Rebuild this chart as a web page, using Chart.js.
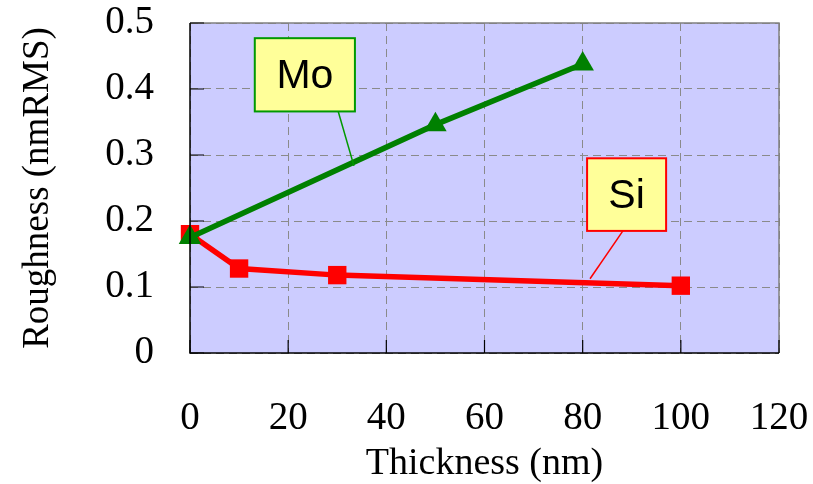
<!DOCTYPE html>
<html lang="en">
<head>
  <meta charset="UTF-8">
  <title>Roughness vs Thickness</title>
  <script src="https://cdn.jsdelivr.net/npm/chart.js"></script>
  <style>
    body { margin: 0; background: #fff; }
    #chart { display: block; }
  </style>
</head>
<body>
  <canvas id="chart" width="813" height="484"></canvas>
  <script>
    // thickness (nm) / roughness (nmRMS)
    const moThickness = [0, 50, 80];
    const moRoughness = [0.175, 0.346, 0.438];
    const siThickness = [0, 10, 30, 100];
    const siRoughness = [0.18, 0.128, 0.118, 0.102];

    const xTickLabels = ['0', '20', '40', '60', '80', '100', '120'];
    const yTickLabels = ['0', '0.1', '0.2', '0.3', '0.4', '0.5'];

    // callout boxes, in data units: [xMin, xMax, yMin, yMax], anchor x on box bottom, tip [x, y]
    const moNoteBox = [13.2, 33.6, 0.366, 0.477];
    const moNoteTip = [30.2, 33.4, 0.2835];
    const siNoteBox = [80.9, 97.0, 0.185, 0.295];
    const siNoteTip = [88.2, 81.5, 0.1125];

    const serif = '"Liberation Serif", "Times New Roman", serif';

    const plotFrame = {
      id: 'plotFrame',
      beforeDraw(chart) {
        const { ctx, chartArea: a } = chart;
        ctx.save();
        ctx.fillStyle = '#ccccff';
        ctx.fillRect(a.left, a.top, a.right - a.left, a.bottom - a.top);
        ctx.restore();
      },
      afterDatasetsDraw(chart) {
        const { ctx, chartArea: a, scales } = chart;
        ctx.save();
        // top / right edges
        ctx.strokeStyle = '#808080';
        ctx.lineWidth = 1.5;
        ctx.beginPath();
        ctx.moveTo(a.left, a.top);
        ctx.lineTo(a.right, a.top);
        ctx.lineTo(a.right, a.bottom);
        ctx.stroke();
        // left / bottom axes
        ctx.strokeStyle = '#000';
        ctx.beginPath();
        ctx.moveTo(a.left, a.top);
        ctx.lineTo(a.left, a.bottom);
        ctx.lineTo(a.right, a.bottom);
        ctx.stroke();
        // inward tick marks
        ctx.lineWidth = 1.2;
        ctx.beginPath();
        scales.y.ticks.forEach((t, i) => {
          const y = scales.y.getPixelForTick(i);
          ctx.moveTo(a.left, y);
          ctx.lineTo(a.left + 14, y);
        });
        scales.x.ticks.forEach((t, i) => {
          const x = scales.x.getPixelForTick(i);
          ctx.moveTo(x, a.bottom);
          ctx.lineTo(x, a.bottom - 13);
        });
        ctx.stroke();
        ctx.restore();
      },
      afterDraw(chart) {
        const { ctx, scales: { x, y } } = chart;
        const note = (text, box, tip, color) => {
          const l = x.getPixelForValue(box[0]), r = x.getPixelForValue(box[1]);
          const b = y.getPixelForValue(box[2]), t = y.getPixelForValue(box[3]);
          ctx.save();
          ctx.strokeStyle = color;
          ctx.lineWidth = 1.5;
          ctx.beginPath();
          ctx.moveTo(x.getPixelForValue(tip[0]), b);
          ctx.lineTo(x.getPixelForValue(tip[1]), y.getPixelForValue(tip[2]));
          ctx.stroke();
          ctx.fillStyle = '#ffff99';
          ctx.fillRect(l, t, r - l, b - t);
          ctx.lineWidth = 2;
          ctx.strokeRect(l, t, r - l, b - t);
          ctx.fillStyle = '#000';
          ctx.font = '41px "Liberation Sans", Arial, sans-serif';
          ctx.textAlign = 'center';
          ctx.textBaseline = 'middle';
          ctx.fillText(text, (l + r) / 2, (t + b) / 2 + 2);
          ctx.restore();
        };
        note('Mo', moNoteBox, moNoteTip, '#009900');
        note('Si', siNoteBox, siNoteTip, '#ff0000');
      }
    };

    const toPoints = (xs, ys) => xs.map((v, i) => ({ x: v, y: ys[i] }));

    new Chart(document.getElementById('chart'), {
      type: 'line',
      data: {
        datasets: [{
          label: 'Mo',
          data: toPoints(moThickness, moRoughness),
          borderColor: '#008000',
          backgroundColor: '#008000',
          borderWidth: 5.5,
          pointStyle: 'triangle',
          pointRadius: 13,
          pointBorderWidth: 0,
          tension: 0
        }, {
          label: 'Si',
          data: toPoints(siThickness, siRoughness),
          borderColor: '#ff0000',
          backgroundColor: '#ff0000',
          borderWidth: 5.5,
          pointStyle: 'rect',
          pointRadius: 13,
          pointBorderWidth: 0,
          tension: 0
        }]
      },
      options: {
        responsive: false,
        animation: false,
        clip: false,
        layout: { autoPadding: false, padding: { top: 23, right: 34, left: 0, bottom: 0 } },
        plugins: {
          legend: { display: false },
          tooltip: { enabled: false }
        },
        scales: {
          x: {
            type: 'linear',
            min: 0,
            max: 120,
            // fixed axis band; tick padding would otherwise widen the side margins
            afterFit: s => { s.height = 131; s.paddingLeft = 0; s.paddingRight = 0; },
            ticks: {
              stepSize: 20,
              padding: 46,
              color: '#000',
              font: { family: serif, size: 39, lineHeight: 1 },
              maxRotation: 0,
              callback: (v, i) => xTickLabels[i]
            },
            grid: { color: '#8a8a8a', lineWidth: 1, drawTicks: false },
            border: { display: false, dash: [8, 5] },
            title: {
              display: true,
              text: 'Thickness (nm)',
              color: '#000',
              font: { family: serif, size: 38, lineHeight: 1.05 },
              padding: { top: 0, bottom: 0 }
            }
          },
          y: {
            min: 0,
            max: 0.5,
            afterFit: s => { s.width = 190; s.paddingTop = 0; s.paddingBottom = 0; },
            ticks: {
              stepSize: 0.1,
              padding: 36,
              color: '#000',
              font: { family: serif, size: 39, lineHeight: 1 },
              callback: (v, i) => yTickLabels[i]
            },
            grid: { color: '#8a8a8a', lineWidth: 1, drawTicks: false },
            border: { display: false, dash: [8, 5] },
            title: {
              display: true,
              text: 'Roughness (nmRMS)',
              color: '#000',
              font: { family: serif, size: 37, lineHeight: 1.2 },
              padding: { top: 16, bottom: 0 }
            }
          }
        }
      },
      plugins: [plotFrame]
    });
  </script>
</body>
</html>
